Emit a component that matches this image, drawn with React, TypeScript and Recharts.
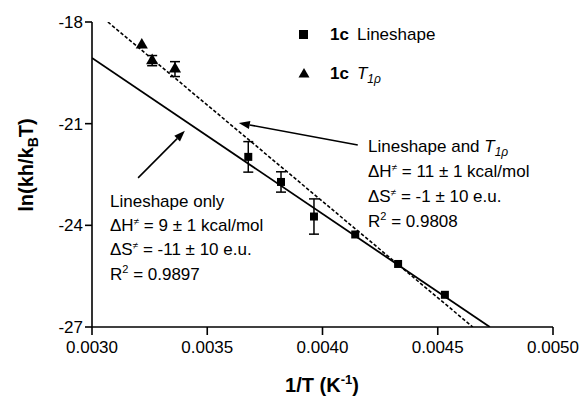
import { ScatterChart, Scatter, XAxis, YAxis, ErrorBar, ReferenceLine, Customized } from 'recharts';

const X_TICKS = [0.003, 0.0035, 0.004, 0.0045, 0.005];
const Y_TICKS = [-27, -24, -21, -18];

// 1c lineshape points (1/T, ln(kh/kBT), error)
const lineshapeX = [0.003678, 0.00382, 0.003963, 0.004142, 0.004328, 0.004531];
const lineshapeY = [-21.98, -22.72, -23.74, -24.27, -25.14, -26.05];
const lineshapeErr = [0.45, 0.3, 0.52, 0, 0, 0];

// 1c T1rho points
const t1rhoX = [0.003216, 0.003261, 0.00336];
const t1rhoY = [-18.68, -19.14, -19.39];
const t1rhoErr = [0, 0.15, 0.22];

// fit lines, end points
const fitSolidX = [0.003, 0.004726];
const fitSolidY = [-19.06, -27];
const fitDashX = [0.003069, 0.004652];
const fitDashY = [-18, -27];

const zip = (xs: number[], ys: number[], es?: number[]) =>
  xs.map((x, i) => ({ x, y: ys[i], err: es ? es[i] : 0 }));

const lineshapeData = zip(lineshapeX, lineshapeY, lineshapeErr);
const t1rhoData = zip(t1rhoX, t1rhoY, t1rhoErr);
const solidData = zip(fitSolidX, fitSolidY);
const dashData = zip(fitDashX, fitDashY);

const FONT = '"Liberation Sans", Arial, Helvetica, sans-serif';

const Arrow = (props: any) => {
  const { x1, y1, x2, y2 } = props;
  const a = Math.atan2(y2 - y1, x2 - x1);
  const L = 11;
  const W = 4;
  const bx = x2 - L * Math.cos(a);
  const by = y2 - L * Math.sin(a);
  const px = -Math.sin(a) * W;
  const py = Math.cos(a) * W;
  return (
    <g>
      <line x1={x1} y1={y1} x2={bx} y2={by} stroke="#000" strokeWidth={1.6} />
      <polygon points={`${x2},${y2} ${bx + px},${by + py} ${bx - px},${by - py}`} fill="#000" />
    </g>
  );
};

const NoDot = () => <g />;

const Annotations = () => (
  <g fontFamily={FONT} fill="#000">
    {/* legend */}
    <rect x={299} y={30} width={9} height={9} fill="#000" />
    <text x={330} y={40} fontSize={17}>
      <tspan fontWeight="bold">1c</tspan>
      <tspan dx={8}>Lineshape</tspan>
    </text>
    <polygon points="304,68 298.5,77.5 309.5,77.5" fill="#000" />
    <text x={330} y={79} fontSize={17}>
      <tspan fontWeight="bold">1c</tspan>
      <tspan dx={8} fontStyle="italic">T</tspan>
      <tspan fontSize={12} dy={4} fontStyle="italic">1ρ</tspan>
    </text>

    {/* right text */}
    <text x={368} y={152} fontSize={17}>
      Lineshape and <tspan fontStyle="italic">T</tspan>
      <tspan fontSize={12} dy={4} fontStyle="italic">1ρ</tspan>
    </text>
    <text x={368} y={177} fontSize={17}>ΔH<tspan fontSize={10} dy={-6}>≠</tspan><tspan dy={6}> = 11 ± 1 kcal/mol</tspan></text>
    <text x={368} y={202} fontSize={17}>ΔS<tspan fontSize={10} dy={-6}>≠</tspan><tspan dy={6}> = -1 ± 10 e.u.</tspan></text>
    <text x={368} y={227} fontSize={17}>R<tspan fontSize={11} dy={-7}>2</tspan><tspan dy={7}> = 0.9808</tspan></text>

    {/* left text */}
    <text x={110} y={207} fontSize={17}>Lineshape only</text>
    <text x={110} y={231} fontSize={17}>ΔH<tspan fontSize={10} dy={-6}>≠</tspan><tspan dy={6}> = 9 ± 1 kcal/mol</tspan></text>
    <text x={110} y={255} fontSize={17}>ΔS<tspan fontSize={10} dy={-6}>≠</tspan><tspan dy={6}> = -11 ± 10 e.u.</tspan></text>
    <text x={110} y={280} fontSize={17}>R<tspan fontSize={11} dy={-7}>2</tspan><tspan dy={7}> = 0.9897</tspan></text>

    {/* axis titles */}
    <text x={322} y={392} fontSize={20} fontWeight="bold" textAnchor="middle">
      1/T (K<tspan fontSize={13} dy={-8}>-1</tspan><tspan dy={8}>)</tspan>
    </text>
    <text transform="translate(33,165) rotate(-90)" fontSize={20} fontWeight="bold" textAnchor="middle">
      ln(kh/k<tspan fontSize={14} dy={5}>B</tspan><tspan dy={-5}>T)</tspan>
    </text>
  </g>
);

export default function App() {
  return (
    <div style={{ position: 'absolute', left: 0, top: 0, background: '#fff' }}>
      <ScatterChart width={584} height={398} margin={{ top: 22, right: 31, bottom: 0, left: 0 }}>
        <XAxis
          type="number"
          dataKey="x"
          domain={[0.003, 0.005]}
          ticks={X_TICKS}
          tickFormatter={(v: number) => v.toFixed(4)}
          height={71}
          stroke="#000"
          strokeWidth={1.6}
          tickSize={8}
          tick={{ fill: '#000', fontSize: 17, fontFamily: FONT, dy: 4 }}
          allowDataOverflow
        />
        <YAxis
          type="number"
          dataKey="y"
          domain={[-27, -18]}
          ticks={Y_TICKS}
          width={92}
          stroke="#000"
          strokeWidth={1.6}
          tickSize={7}
          tick={{ fill: '#000', fontSize: 17, fontFamily: FONT }}
          allowDataOverflow
        />
        <Scatter data={solidData} line={{ stroke: '#000', strokeWidth: 1.8 }} shape={NoDot} isAnimationActive={false} />
        <Scatter
          data={dashData}
          line={{ stroke: '#000', strokeWidth: 1.6, strokeDasharray: '3.5 2' }}
          shape={NoDot}
          isAnimationActive={false}
        />
        <Scatter data={lineshapeData} shape="square" size={81} fill="#000" isAnimationActive={false}>
          <ErrorBar dataKey="err" direction="y" width={5} stroke="#000" strokeWidth={1.5} />
        </Scatter>
        <Scatter data={t1rhoData} shape="triangle" size={52} fill="#000" isAnimationActive={false}>
          <ErrorBar dataKey="err" direction="y" width={5} stroke="#000" strokeWidth={1.5} />
        </Scatter>
        <ReferenceLine segment={[{ x: 0.0032, y: -22.6 }, { x: 0.003403, y: -21.21 }]} shape={Arrow} />
        <ReferenceLine segment={[{ x: 0.004153, y: -21.63 }, { x: 0.003637, y: -20.98 }]} shape={Arrow} />
        <Customized component={<Annotations />} />
      </ScatterChart>
    </div>
  );
}
